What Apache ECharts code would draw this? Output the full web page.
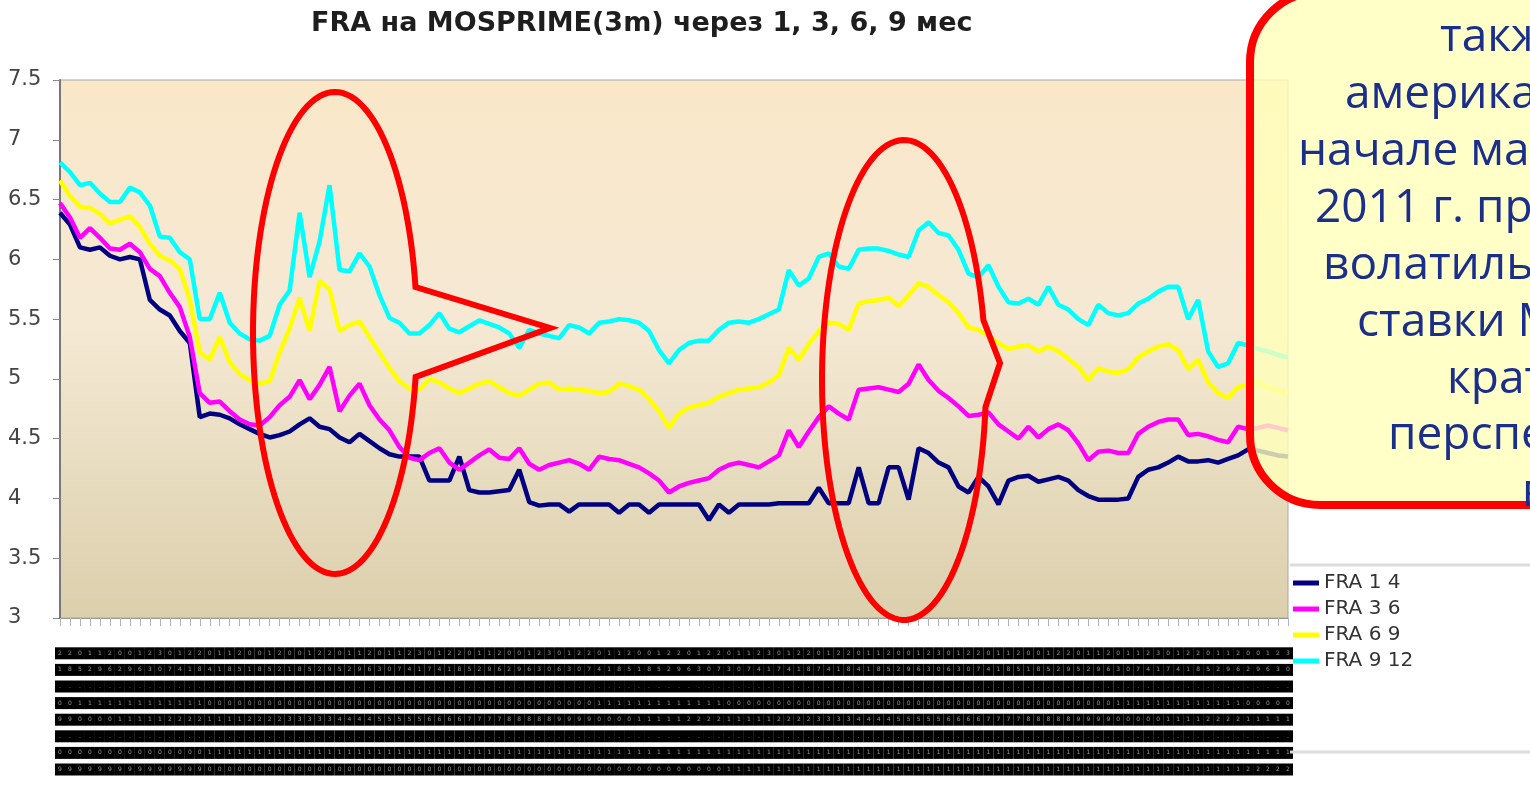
<!DOCTYPE html>
<html>
<head>
<meta charset="utf-8">
<script src="https://cdn.jsdelivr.net/npm/echarts@6/dist/echarts.min.js"></script>
<style>
  html, body { margin: 0; padding: 0; background: #ffffff; }
  #chart { width: 1530px; height: 785px; }
</style>
</head>
<body>
<div id="chart"></div>
<script>
// Weekly fixing dates (dd.mm.yy)
const categories = [];
(function () {
  const d = new Date(Date.UTC(2009, 8, 21));
  for (let i = 0; i < 124; i++) {
    const dd = String(d.getUTCDate()).padStart(2, '0');
    const mm = String(d.getUTCMonth() + 1).padStart(2, '0');
    const yy = String(d.getUTCFullYear() % 100).padStart(2, '0');
    categories.push(dd + '.' + mm + '.' + yy);
    d.setUTCDate(d.getUTCDate() + 7);
  }
})();

const seriesNames = ['FRA 1 4', 'FRA 3 6', 'FRA 6 9', 'FRA 9 12'];
const seriesColors = ['#000080', '#ff00ff', '#ffff00', '#00ffff'];

const fra14 = [
  6.39,6.29,6.10,6.08,6.10,6.03,6.00,6.02,6.00,5.66,
  5.58,5.53,5.40,5.30,4.68,4.71,4.70,4.67,4.62,4.58,
  4.54,4.51,4.53,4.56,4.62,4.67,4.60,4.58,4.51,4.47,
  4.54,4.48,4.42,4.37,4.35,4.35,4.35,4.15,4.15,4.15,
  4.35,4.07,4.05,4.05,4.06,4.07,4.24,3.97,3.94,3.95,
  3.95,3.89,3.95,3.95,3.95,3.95,3.88,3.95,3.95,3.88,
  3.95,3.95,3.95,3.95,3.95,3.82,3.95,3.88,3.95,3.95,
  3.95,3.95,3.96,3.96,3.96,3.96,4.09,3.96,3.96,3.96,
  4.26,3.96,3.96,4.26,4.26,3.99,4.42,4.38,4.30,4.26,
  4.10,4.05,4.18,4.10,3.95,4.15,4.18,4.19,4.14,4.16,
  4.18,4.15,4.07,4.02,3.99,3.99,3.99,4.00,4.18,4.24,
  4.26,4.30,4.35,4.31,4.31,4.32,4.30,4.33,4.36,4.41,
  4.40,4.38,4.36,4.35
];
const fra36 = [
  6.47,6.35,6.18,6.26,6.18,6.09,6.08,6.13,6.06,5.92,
  5.86,5.72,5.60,5.35,4.88,4.80,4.81,4.73,4.66,4.62,
  4.61,4.68,4.78,4.85,4.99,4.83,4.95,5.10,4.73,4.86,
  4.96,4.78,4.66,4.57,4.43,4.34,4.32,4.38,4.42,4.30,
  4.24,4.30,4.36,4.41,4.34,4.33,4.42,4.29,4.24,4.28,
  4.30,4.32,4.29,4.24,4.35,4.33,4.32,4.29,4.26,4.21,
  4.15,4.05,4.10,4.13,4.15,4.17,4.24,4.28,4.30,4.28,
  4.26,4.31,4.36,4.57,4.43,4.56,4.68,4.77,4.71,4.66,
  4.91,4.92,4.93,4.91,4.89,4.96,5.12,4.99,4.90,4.84,
  4.77,4.69,4.70,4.72,4.62,4.56,4.50,4.60,4.51,4.58,
  4.62,4.57,4.46,4.32,4.39,4.40,4.38,4.38,4.54,4.60,
  4.64,4.66,4.66,4.53,4.54,4.52,4.49,4.47,4.60,4.58,
  4.59,4.61,4.59,4.57
];
const fra69 = [
  6.66,6.53,6.44,6.43,6.38,6.30,6.33,6.36,6.27,6.13,
  6.03,5.99,5.92,5.66,5.22,5.16,5.35,5.14,5.04,4.99,
  4.96,4.98,5.22,5.42,5.68,5.40,5.82,5.75,5.40,5.45,
  5.48,5.35,5.22,5.09,4.98,4.92,4.91,5.00,4.97,4.92,
  4.88,4.92,4.96,4.98,4.93,4.88,4.86,4.91,4.96,4.97,
  4.91,4.92,4.91,4.90,4.88,4.89,4.96,4.94,4.91,4.83,
  4.73,4.59,4.71,4.76,4.78,4.80,4.85,4.88,4.91,4.92,
  4.93,4.97,5.03,5.26,5.16,5.29,5.40,5.47,5.46,5.41,
  5.63,5.65,5.66,5.68,5.61,5.70,5.80,5.77,5.70,5.64,
  5.55,5.43,5.41,5.36,5.30,5.25,5.27,5.28,5.23,5.27,
  5.23,5.17,5.10,4.99,5.09,5.06,5.05,5.08,5.18,5.23,
  5.27,5.29,5.24,5.08,5.16,4.97,4.88,4.84,4.93,4.95,
  4.97,4.93,4.90,4.88
];
const fra912 = [
  6.81,6.73,6.62,6.64,6.55,6.48,6.48,6.60,6.56,6.45,
  6.19,6.18,6.06,6.00,5.50,5.50,5.72,5.47,5.38,5.33,
  5.32,5.36,5.62,5.74,6.39,5.85,6.15,6.62,5.91,5.90,
  6.05,5.94,5.70,5.51,5.47,5.38,5.38,5.45,5.55,5.42,
  5.39,5.44,5.49,5.46,5.43,5.38,5.26,5.41,5.38,5.36,
  5.34,5.45,5.43,5.38,5.47,5.48,5.50,5.49,5.47,5.40,
  5.24,5.13,5.24,5.30,5.32,5.32,5.41,5.47,5.48,5.47,
  5.50,5.54,5.58,5.91,5.78,5.84,6.02,6.05,5.94,5.92,
  6.08,6.09,6.09,6.07,6.04,6.02,6.24,6.31,6.22,6.20,
  6.08,5.88,5.85,5.95,5.77,5.64,5.63,5.67,5.62,5.77,
  5.62,5.58,5.50,5.45,5.62,5.55,5.53,5.55,5.63,5.67,
  5.73,5.77,5.77,5.50,5.66,5.23,5.10,5.13,5.30,5.28,
  5.25,5.23,5.20,5.18
];
const seriesValues = [fra14, fra36, fra69, fra912];

// Callout text lines shown in the note box
const noteLines = ['также', 'американских', 'начале марта', '2011 г. произошло', 'волатильности',
                   'ставки MosPrime', 'краткосрочной', 'перспективе', 'в'];
const noteLeft = [1440, 1345, 1298, 1315, 1323, 1357, 1447, 1388, 1522];

// Outline of an ellipse opened at one side with a pointed wedge
function wedgeEllipse(cx, cy, rx, ry, tStart, tEnd, tip) {
  const pts = [];
  const steps = 120;
  for (let k = 0; k <= steps; k++) {
    const t = tStart + (tEnd - tStart) * k / steps;
    pts.push([cx + rx * Math.cos(t), cy + ry * Math.sin(t)]);
  }
  pts.push(tip);
  return pts;
}

const redStroke = { fill: 'none', stroke: '#ff0000', lineWidth: 6, lineJoin: 'miter' };

const graphics = [
  { type: 'polygon', z: 50,
    shape: { points: wedgeEllipse(335, 333, 82, 241, -0.192, -(2 * Math.PI - 0.1836), [550, 328]) },
    style: redStroke },
  { type: 'polygon', z: 50,
    shape: { points: wedgeEllipse(904, 380, 82, 240, -0.2527, -(2 * Math.PI - 0.1127), [1000, 363]) },
    style: redStroke },
  { type: 'line', z: 5, shape: { x1: 1290, y1: 565, x2: 1530, y2: 565 },
    style: { stroke: '#dcdcdc', lineWidth: 3 } },
  { type: 'line', z: 5, shape: { x1: 1290, y1: 752, x2: 1530, y2: 752 },
    style: { stroke: '#dcdcdc', lineWidth: 3 } },
  { type: 'rect', z: 60,
    shape: { x: 1250, y: -8, width: 420, height: 513, r: 70 },
    style: { fill: 'rgba(255,255,185,0.8)', stroke: '#ff0000', lineWidth: 8 } }
];
noteLines.forEach(function (txt, k) {
  graphics.push({
    type: 'text', z: 61,
    style: {
      text: txt, x: noteLeft[k], y: 38 + 56.9 * k,
      fill: '#1a2e8c', font: '46px "Open Sans"',
      align: 'left', verticalAlign: 'middle'
    }
  });
});

const chart = echarts.init(document.getElementById('chart'));
chart.setOption({
  animation: false,
  backgroundColor: '#ffffff',
  title: {
    text: 'FRA на MOSPRIME(3m) через 1, 3, 6, 9 мес',
    left: 306, top: 5,
    textStyle: { fontFamily: 'DejaVu Sans', fontWeight: 'bold', fontSize: 27, color: '#1e1e1e' }
  },
  legend: {
    data: seriesNames,
    orient: 'vertical',
    left: 1288, top: 568,
    icon: 'rect', itemWidth: 26, itemHeight: 5, itemGap: 6,
    textStyle: { fontFamily: 'DejaVu Sans', fontSize: 20, color: '#333' }
  },
  grid: {
    left: 60, right: 242, top: 80, bottom: 167,
    show: true, borderColor: '#a8a8a8', borderWidth: 1,
    backgroundColor: {
      type: 'linear', x: 0, y: 0, x2: 0, y2: 1,
      colorStops: [
        { offset: 0, color: '#fae7c8' },
        { offset: 0.45, color: '#f5e9d4' },
        { offset: 1, color: '#dbcfac' }
      ]
    }
  },
  xAxis: {
    type: 'category',
    data: categories,
    boundaryGap: false,
    axisLine: { show: true, lineStyle: { color: '#999' } },
    axisTick: { show: true, interval: 0, length: 8, lineStyle: { color: '#b4b4b4' } },
    axisLabel: {
      interval: 0, margin: 27,
      formatter: function (v) {
        return v.split('').map(function (c) { return '{b|' + c + '}'; }).join('\n');
      },
      rich: {
        b: {
          width: 10, height: 12, lineHeight: 16.6,
          backgroundColor: '#000', color: 'rgba(255,255,255,0.55)',
          fontSize: 6, fontFamily: 'DejaVu Sans', align: 'center'
        }
      }
    }
  },
  yAxis: {
    type: 'value',
    min: 3, max: 7.5, interval: 0.5,
    splitLine: { show: false },
    axisLine: { show: true, lineStyle: { color: '#777', width: 2 } },
    axisTick: { show: true, length: 7, lineStyle: { color: '#888' } },
    axisLabel: {
      align: 'left', margin: 52,
      fontFamily: 'DejaVu Sans', fontSize: 21, color: '#444'
    }
  },
  series: seriesNames.map(function (name, k) {
    return {
      name: name,
      type: 'line',
      data: seriesValues[k],
      symbol: 'none',
      color: seriesColors[k],
      lineStyle: { width: 4.5, color: seriesColors[k] },
      z: 2 + k
    };
  }),
  graphic: { elements: graphics }
});
</script>
</body>
</html>
